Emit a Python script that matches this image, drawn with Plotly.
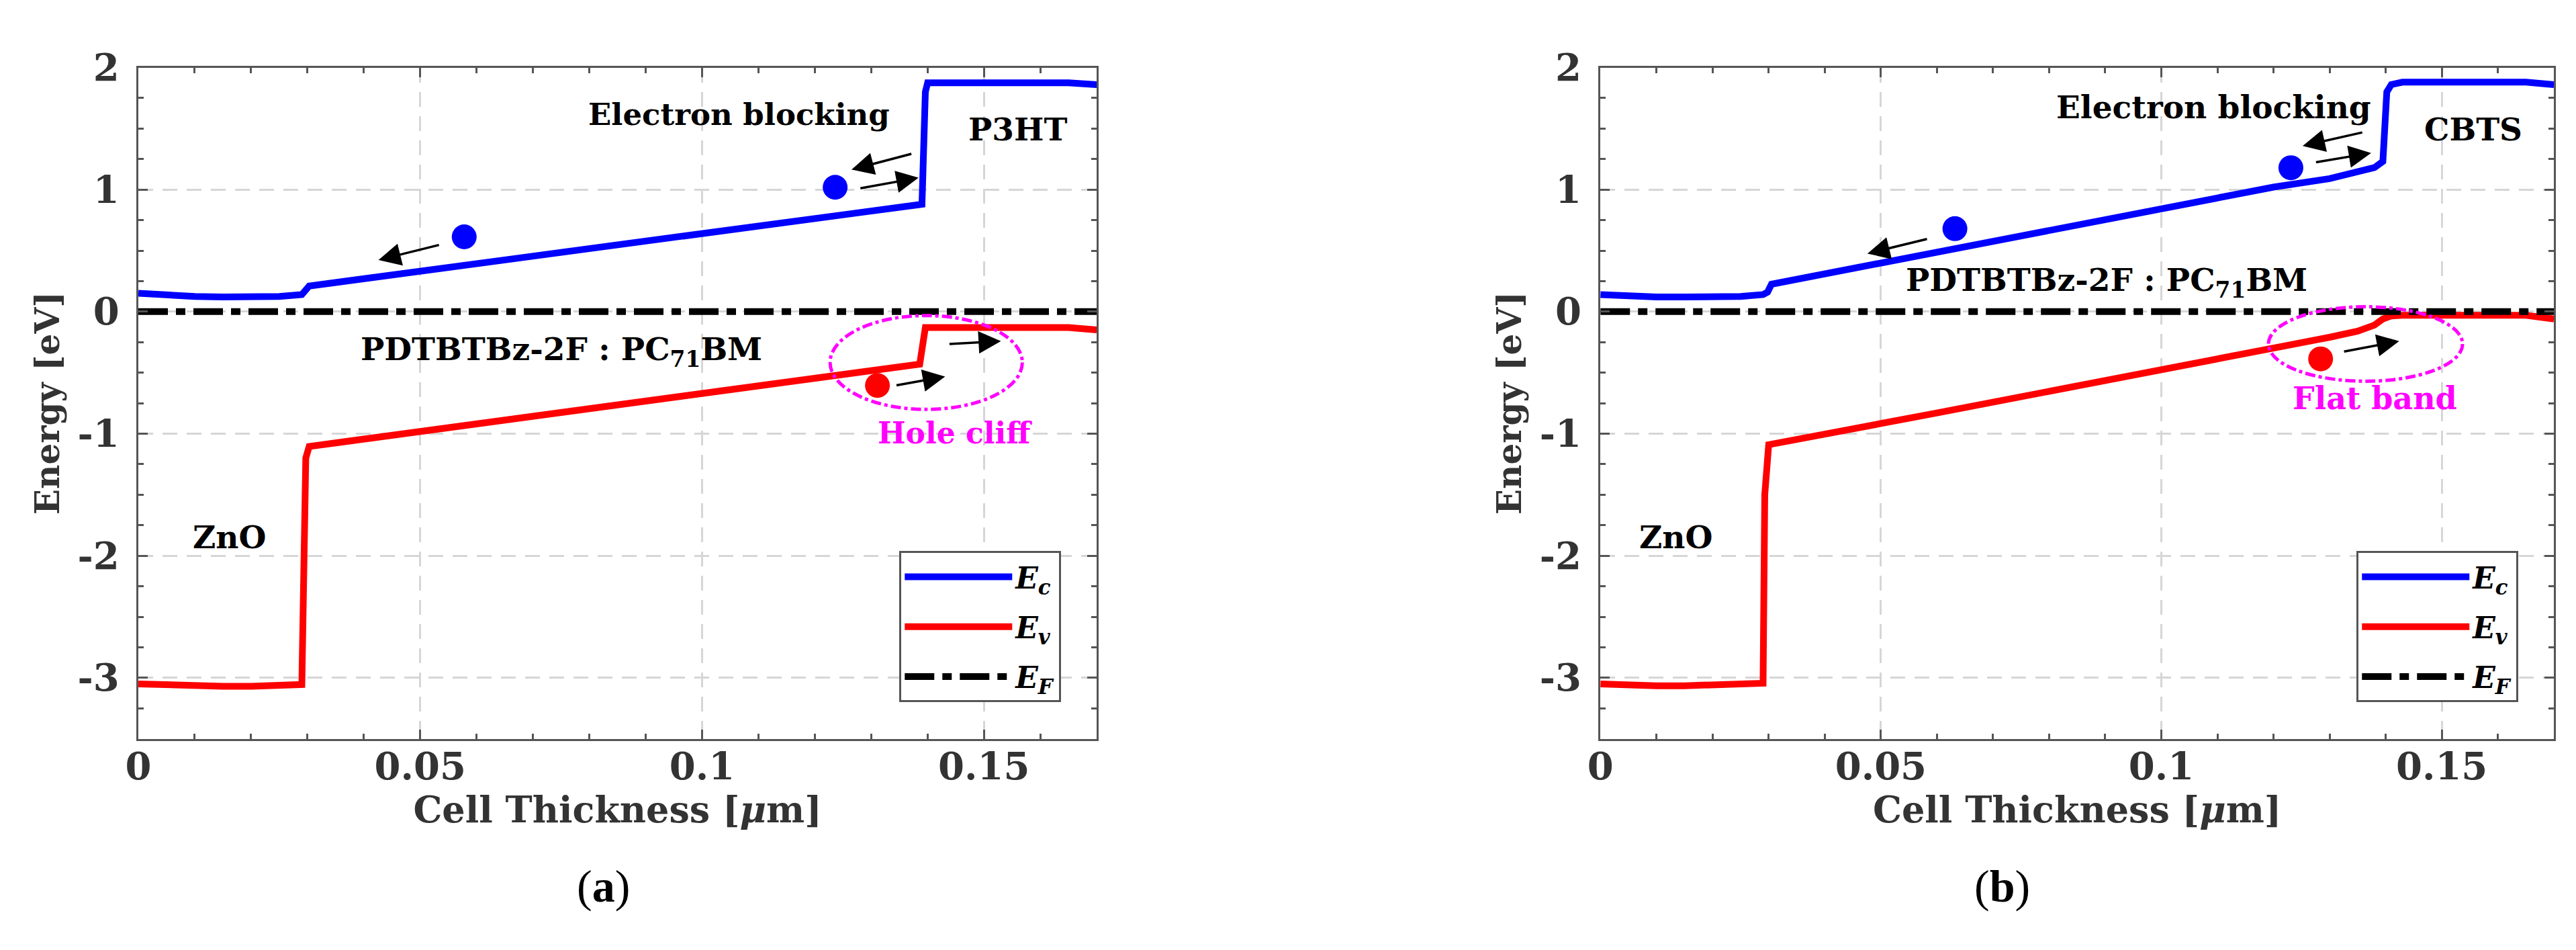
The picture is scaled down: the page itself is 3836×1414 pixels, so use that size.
import plotly.graph_objects as go

# ---------------- data ----------------
# Panel (a)  ZnO / PDTBTBz-2F:PC71BM / P3HT
xa_c = [0, 0.005, 0.01, 0.015, 0.02, 0.025, 0.029, 0.0296, 0.0303, 0.139, 0.1396, 0.1400, 0.165, 0.17]
ec_a = [0.15, 0.135, 0.125, 0.12, 0.12, 0.125, 0.14, 0.17, 0.21, 0.88, 1.80, 1.875, 1.875, 1.86]
xa_v = [0, 0.005, 0.01, 0.015, 0.02, 0.025, 0.029, 0.0297, 0.0303, 0.1386, 0.1392, 0.1396, 0.165, 0.17]
ev_a = [-3.05, -3.06, -3.07, -3.07, -3.07, -3.065, -3.055, -1.2, -1.105, -0.43, -0.20, -0.13, -0.13, -0.15]

# Panel (b)  ZnO / PDTBTBz-2F:PC71BM / CBTS
xb_c = [0, 0.005, 0.01, 0.015, 0.02, 0.025, 0.029, 0.0298, 0.0305, 0.06, 0.09, 0.12, 0.13, 0.135,
        0.138, 0.1395, 0.1398, 0.1402, 0.141, 0.143, 0.165, 0.17]
ec_b = [0.14, 0.125, 0.12, 0.12, 0.12, 0.125, 0.14, 0.16, 0.225, 0.49, 0.76, 1.02, 1.09, 1.14,
        1.18, 1.23, 1.5, 1.8, 1.86, 1.88, 1.88, 1.86]
xb_v = [0, 0.005, 0.01, 0.015, 0.02, 0.025, 0.029, 0.0293, 0.0300, 0.06, 0.09, 0.12, 0.13, 0.135,
        0.138, 0.1395, 0.141, 0.143, 0.165, 0.17]
ev_b = [-3.05, -3.06, -3.065, -3.065, -3.06, -3.055, -3.045, -1.5, -1.09, -0.83, -0.57, -0.31, -0.21, -0.16,
        -0.11, -0.06, -0.035, -0.03, -0.03, -0.06]

x_ef = [0, 0.17]
ef = [0, 0]

# carriers (dots)
dots_a_blue_x = [0.0578, 0.1236]
dots_a_blue_y = [0.613, 1.019]
dots_a_red_x = [0.1311]
dots_a_red_y = [-0.605]
dots_b_blue_x = [0.0632, 0.1231]
dots_b_blue_y = [0.680, 1.179]
dots_b_red_x = [0.1284]
dots_b_red_y = [-0.387]

# arrows: (tail_x, tail_y, head_x, head_y)
arrows_a = [(0.0535, 0.548, 0.0426, 0.423),
            (0.1373, 1.295, 0.1265, 1.164),
            (0.1279, 1.009, 0.1384, 1.097),
            (0.1343, -0.605, 0.1431, -0.532),
            (0.1437, -0.266, 0.1530, -0.242)]
arrows_b = [(0.0584, 0.597, 0.0476, 0.476),
            (0.1360, 1.470, 0.1252, 1.358),
            (0.1274, 1.223, 0.1374, 1.300),
            (0.1324, -0.329, 0.1424, -0.242)]

# ellipses (x0, x1, y0, y1)
ellipse_a = (0.1227, 0.1568, -0.801, -0.032)
ellipse_b = (0.1191, 0.1537, -0.57, 0.04)

x_tickvals = [0, 0.05, 0.1, 0.15]
x_ticktext = ["0", "0.05", "0.1", "0.15"]
y_tickvals = [-3, -2, -1, 0, 1, 2]
y_ticktext = ["-3", "-2", "-1", "0", "1", "2"]

# ---------------- styles ----------------
SERIF = "DejaVu Serif"
BLUE = "#0000FF"
RED = "#FF0000"
MAG = "#FF00FF"
AXC = "#555555"
TXT = "#333333"
LW = 10

fig = go.Figure()

leg_c = "<b><i>E</i></b><sub><b><i>c</i></b></sub>"
leg_v = "<b><i>E</i></b><sub><b><i>v</i></b></sub>"
leg_f = "<b><i>E</i></b><sub><b><i>F</i></b></sub>"

for (xc, yc, xv, yv, xa, ya, leg) in [
        (xa_c, ec_a, xa_v, ev_a, "x", "y", "legend"),
        (xb_c, ec_b, xb_v, ev_b, "x2", "y2", "legend2")]:
    fig.add_trace(go.Scatter(x=xc, y=yc, mode="lines", line=dict(color=BLUE, width=LW),
                             name=leg_c, xaxis=xa, yaxis=ya, legend=leg, legendgroup="c"))
    fig.add_trace(go.Scatter(x=xv, y=yv, mode="lines", line=dict(color=RED, width=LW),
                             name=leg_v, xaxis=xa, yaxis=ya, legend=leg, legendgroup="v"))
    fig.add_trace(go.Scatter(x=x_ef, y=ef, mode="lines",
                             line=dict(color="black", width=LW, dash="44px,12px,14px,12px"),
                             name=leg_f, xaxis=xa, yaxis=ya, legend=leg, legendgroup="f"))

for (bx, by, rx, ry, xa, ya) in [
        (dots_a_blue_x, dots_a_blue_y, dots_a_red_x, dots_a_red_y, "x", "y"),
        (dots_b_blue_x, dots_b_blue_y, dots_b_red_x, dots_b_red_y, "x2", "y2")]:
    fig.add_trace(go.Scatter(x=bx, y=by, mode="markers", marker=dict(color=BLUE, size=37),
                             showlegend=False, xaxis=xa, yaxis=ya))
    fig.add_trace(go.Scatter(x=rx, y=ry, mode="markers", marker=dict(color=RED, size=37),
                             showlegend=False, xaxis=xa, yaxis=ya))

ann = []
def txt(x, y, s, xr, yr, size=46, color="black"):
    ann.append(dict(x=x, y=y, xref=xr, yref=yr, text="<b>" + s + "</b>", showarrow=False,
                    font=dict(family=SERIF, size=size, color=color)))

# panel a labels
txt(0.1065, 1.613, "Electron blocking", "x", "y", 45)
txt(0.156, 1.495, "P3HT", "x", "y", 47)
txt(0.0751, -0.323, "PDTBTBz-2F : PC<sub>71</sub>BM", "x", "y", 47)
txt(0.0161, -1.85, "ZnO", "x", "y", 47)
txt(0.1449, -0.995, "Hole cliff", "x", "y", 44, MAG)
# panel b labels
txt(0.1094, 1.674, "Electron blocking", "x2", "y2", 47)
txt(0.1556, 1.495, "CBTS", "x2", "y2", 47)
txt(0.0902, 0.242, "PDTBTBz-2F : PC<sub>71</sub>BM", "x2", "y2", 47)
txt(0.0135, -1.85, "ZnO", "x2", "y2", 47)
txt(0.1381, -0.71, "Flat band", "x2", "y2", 46, MAG)

for arrs, xr, yr in [(arrows_a, "x", "y"), (arrows_b, "x2", "y2")]:
    for (tx, ty, hx, hy) in arrs:
        ann.append(dict(x=hx, y=hy, ax=tx, ay=ty, xref=xr, yref=yr, axref=xr, ayref=yr,
                        showarrow=True, arrowhead=2, arrowsize=1.9, arrowwidth=3.5,
                        arrowcolor="black", text=""))

# (a) / (b) captions
ann.append(dict(x=0.2174, y=0.0453, xref="paper", yref="paper", showarrow=False,
                text="(<b>a</b>)", font=dict(family="Liberation Serif", size=68, color="black")))
ann.append(dict(x=0.7855, y=0.0453, xref="paper", yref="paper", showarrow=False,
                text="(<b>b</b>)", font=dict(family="Liberation Serif", size=68, color="black")))

shapes = []
for (e, xr, yr) in [(ellipse_a, "x", "y"), (ellipse_b, "x2", "y2")]:
    shapes.append(dict(type="circle", xref=xr, yref=yr, x0=e[0], x1=e[1], y0=e[2], y1=e[3],
                       line=dict(color=MAG, width=5, dash="dashdot")))

GRID = dict(showgrid=True, gridcolor="#d6d6d6", gridwidth=3, griddash="22px,14px", zeroline=False)

def xaxis(domain, anchor):
    return dict(domain=domain, anchor=anchor, range=[0, 0.17], tickvals=x_tickvals, ticktext=x_ticktext,
                showline=True, linecolor=AXC, linewidth=3, mirror="allticks",
                ticks="inside", ticklen=14, tickwidth=3, tickcolor=AXC,
                minor=dict(ticks="inside", dtick=0.01, ticklen=8, tickwidth=3, tickcolor=AXC, showgrid=False),
                tickfont=dict(family=SERIF, size=56, color=TXT, weight="bold"),
                ticklabelstandoff=-10,
                title=dict(text="<b>Cell Thickness [<i>μ</i>m]</b>", standoff=14,
                           font=dict(family=SERIF, size=54, color=TXT)), **GRID)

def yaxis(domain, anchor):
    return dict(domain=domain, anchor=anchor, range=[-3.5, 2], tickvals=y_tickvals, ticktext=y_ticktext,
                showline=True, linecolor=AXC, linewidth=3, mirror="allticks",
                ticks="inside", ticklen=14, tickwidth=3, tickcolor=AXC,
                minor=dict(ticks="inside", dtick=0.25, ticklen=8, tickwidth=3, tickcolor=AXC, showgrid=False),
                tickfont=dict(family=SERIF, size=56, color=TXT, weight="bold"),
                ticklabelstandoff=14,
                title=dict(text="<b>Energy [eV]</b>", standoff=12,
                           font=dict(family=SERIF, size=50, color=TXT)), **GRID)

ydom = [0.2334, 0.9569]
legend_common = dict(bgcolor="white", bordercolor=AXC, borderwidth=3,
                     font=dict(family=SERIF, size=44, color="black"),
                     itemwidth=160, tracegroupgap=14, xanchor="left", yanchor="top",
                     traceorder="grouped")

fig.update_layout(
    width=3836, height=1414,
    margin=dict(l=0, r=0, t=0, b=0),
    paper_bgcolor="white", plot_bgcolor="white",
    xaxis=xaxis([0.0469, 0.4208], "y"),
    yaxis=yaxis(ydom, "x"),
    xaxis2=xaxis([0.6173, 0.9893], "y2"),
    yaxis2=yaxis(ydom, "x2"),
    legend=dict(x=0.3438, y=0.4356, **legend_common),
    legend2=dict(x=0.9123, y=0.4356, **legend_common),
    annotations=ann,
    shapes=shapes,
    showlegend=True,
)

fig.write_html("out.html")
